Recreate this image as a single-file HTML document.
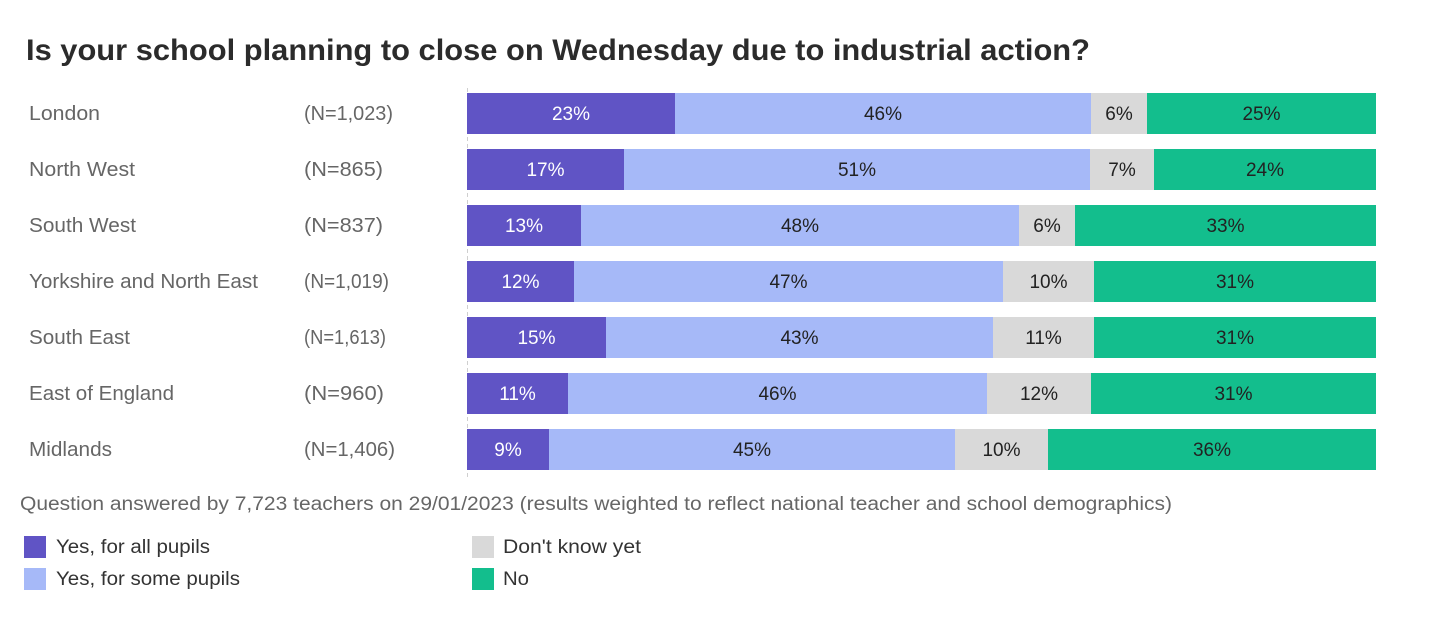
<!DOCTYPE html>
<html><head><meta charset="utf-8"><style>
html,body{margin:0;padding:0;background:#fff;}
svg{display:block;}
text{font-family:"Liberation Sans",sans-serif;}
</style></head><body>
<svg width="1440" height="640" viewBox="0 0 1440 640" xmlns="http://www.w3.org/2000/svg">
<rect width="1440" height="640" fill="#fff"/>
<text x="26" y="60" font-size="30" font-weight="bold" fill="#2b2b2b" textLength="1064" lengthAdjust="spacingAndGlyphs">Is your school planning to close on Wednesday due to industrial action?</text>

<line x1="467.5" y1="88" x2="467.5" y2="477" stroke="#cfcfcf" stroke-width="1" stroke-dasharray="4,3"/>

<g font-size="20" fill="#666">
<text x="29" y="120" textLength="71" lengthAdjust="spacingAndGlyphs">London</text>
<text x="29" y="176" textLength="106" lengthAdjust="spacingAndGlyphs">North West</text>
<text x="29" y="232" textLength="107" lengthAdjust="spacingAndGlyphs">South West</text>
<text x="29" y="288" textLength="229" lengthAdjust="spacingAndGlyphs">Yorkshire and North East</text>
<text x="29" y="344" textLength="101" lengthAdjust="spacingAndGlyphs">South East</text>
<text x="29" y="400" textLength="145" lengthAdjust="spacingAndGlyphs">East of England</text>
<text x="29" y="456" textLength="83" lengthAdjust="spacingAndGlyphs">Midlands</text>

<text x="304" y="120" textLength="89" lengthAdjust="spacingAndGlyphs">(N=1,023)</text>
<text x="304" y="176" textLength="79" lengthAdjust="spacingAndGlyphs">(N=865)</text>
<text x="304" y="232" textLength="79" lengthAdjust="spacingAndGlyphs">(N=837)</text>
<text x="304" y="288" textLength="85" lengthAdjust="spacingAndGlyphs">(N=1,019)</text>
<text x="304" y="344" textLength="82" lengthAdjust="spacingAndGlyphs">(N=1,613)</text>
<text x="304" y="400" textLength="80" lengthAdjust="spacingAndGlyphs">(N=960)</text>
<text x="304" y="456" textLength="91" lengthAdjust="spacingAndGlyphs">(N=1,406)</text>
</g>

<!-- bars -->
<g>
<!-- London y=93 -->
<rect x="467" y="93" width="208" height="41" fill="#6054c5"/>
<rect x="675" y="93" width="416" height="41" fill="#a6b9f8"/>
<rect x="1091" y="93" width="56" height="41" fill="#d9d9d9"/>
<rect x="1147" y="93" width="229" height="41" fill="#13be8d"/>
<!-- North West -->
<rect x="467" y="149" width="157" height="41" fill="#6054c5"/>
<rect x="624" y="149" width="466" height="41" fill="#a6b9f8"/>
<rect x="1090" y="149" width="64" height="41" fill="#d9d9d9"/>
<rect x="1154" y="149" width="222" height="41" fill="#13be8d"/>
<!-- South West -->
<rect x="467" y="205" width="114" height="41" fill="#6054c5"/>
<rect x="581" y="205" width="438" height="41" fill="#a6b9f8"/>
<rect x="1019" y="205" width="56" height="41" fill="#d9d9d9"/>
<rect x="1075" y="205" width="301" height="41" fill="#13be8d"/>
<!-- Yorkshire -->
<rect x="467" y="261" width="107" height="41" fill="#6054c5"/>
<rect x="574" y="261" width="429" height="41" fill="#a6b9f8"/>
<rect x="1003" y="261" width="91" height="41" fill="#d9d9d9"/>
<rect x="1094" y="261" width="282" height="41" fill="#13be8d"/>
<!-- South East -->
<rect x="467" y="317" width="139" height="41" fill="#6054c5"/>
<rect x="606" y="317" width="387" height="41" fill="#a6b9f8"/>
<rect x="993" y="317" width="101" height="41" fill="#d9d9d9"/>
<rect x="1094" y="317" width="282" height="41" fill="#13be8d"/>
<!-- East of England -->
<rect x="467" y="373" width="101" height="41" fill="#6054c5"/>
<rect x="568" y="373" width="419" height="41" fill="#a6b9f8"/>
<rect x="987" y="373" width="104" height="41" fill="#d9d9d9"/>
<rect x="1091" y="373" width="285" height="41" fill="#13be8d"/>
<!-- Midlands -->
<rect x="467" y="429" width="82" height="41" fill="#6054c5"/>
<rect x="549" y="429" width="406" height="41" fill="#a6b9f8"/>
<rect x="955" y="429" width="93" height="41" fill="#d9d9d9"/>
<rect x="1048" y="429" width="328" height="41" fill="#13be8d"/>
</g>

<g font-size="19" text-anchor="middle">
<g fill="#ffffff">
<text x="571" y="120">23%</text>
<text x="545.5" y="176">17%</text>
<text x="524" y="232">13%</text>
<text x="520.5" y="288">12%</text>
<text x="536.5" y="344">15%</text>
<text x="517.5" y="400">11%</text>
<text x="508" y="456">9%</text>
</g>
<g fill="#222">
<text x="883" y="120">46%</text>
<text x="1119" y="120">6%</text>
<text x="1261.5" y="120">25%</text>
<text x="857" y="176">51%</text>
<text x="1122" y="176">7%</text>
<text x="1265" y="176">24%</text>
<text x="800" y="232">48%</text>
<text x="1047" y="232">6%</text>
<text x="1225.5" y="232">33%</text>
<text x="788.5" y="288">47%</text>
<text x="1048.5" y="288">10%</text>
<text x="1235" y="288">31%</text>
<text x="799.5" y="344">43%</text>
<text x="1043.5" y="344">11%</text>
<text x="1235" y="344">31%</text>
<text x="777.5" y="400">46%</text>
<text x="1039" y="400">12%</text>
<text x="1233.5" y="400">31%</text>
<text x="752" y="456">45%</text>
<text x="1001.5" y="456">10%</text>
<text x="1212" y="456">36%</text>
</g>
</g>

<text x="20" y="510" font-size="19" fill="#666" textLength="1152" lengthAdjust="spacingAndGlyphs">Question answered by 7,723 teachers on 29/01/2023 (results weighted to reflect national teacher and school demographics)</text>

<rect x="24" y="536" width="22" height="22" fill="#6054c5"/>
<rect x="24" y="568" width="22" height="22" fill="#a6b9f8"/>
<rect x="472" y="536" width="22" height="22" fill="#d9d9d9"/>
<rect x="472" y="568" width="22" height="22" fill="#13be8d"/>
<g font-size="19" fill="#333">
<text x="56" y="553" textLength="154" lengthAdjust="spacingAndGlyphs">Yes, for all pupils</text>
<text x="56" y="585" textLength="184" lengthAdjust="spacingAndGlyphs">Yes, for some pupils</text>
<text x="503" y="553" textLength="138" lengthAdjust="spacingAndGlyphs">Don't know yet</text>
<text x="503" y="585" textLength="26" lengthAdjust="spacingAndGlyphs">No</text>
</g>
</svg>
</body></html>
